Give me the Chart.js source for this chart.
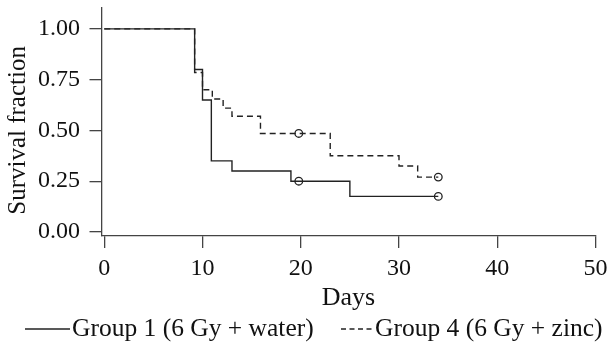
<!DOCTYPE html>
<html>
<head>
<meta charset="utf-8">
<script src="https://cdn.jsdelivr.net/npm/chart.js@4"></script>
<style>
  html, body { margin: 0; padding: 0; background: #fff; }
  #wrap { width: 607px; height: 347px; }
</style>
</head>
<body>
<div id="wrap"><canvas id="c" width="607" height="347"></canvas></div>
<script>
// ---- data ----
const xTickValues = [0, 10, 20, 30, 40, 50];
const yTickValues = [0, 0.25, 0.5, 0.75, 1.0];

const group1Days = [0, 9.2, 10.0, 10.9, 13.0, 19.0, 25.0, 34.0];
const group1Surv = [1.00, 0.80, 0.65, 0.35, 0.30, 0.25, 0.175, 0.175];
const group1CensorDays = [19.8, 34.0];
const group1CensorSurv = [0.25, 0.175];

const group4Days = [0, 9.2, 10.0, 11.0, 12.1, 13.0, 15.9, 23.0, 30.0, 31.9, 34.0];
const group4Surv = [1.00, 0.785, 0.70, 0.655, 0.61, 0.57, 0.485, 0.375, 0.325, 0.27, 0.27];
const group4CensorDays = [19.8, 34.0];
const group4CensorSurv = [0.485, 0.27];

const seriesLabels = ['Group 1 (6 Gy + water)', 'Group 4 (6 Gy + zinc)'];
const xTitle = 'Days';
const yTitle = 'Survival fraction';

// ---- build chart ----
const FONT = "'Liberation Serif', 'Times New Roman', serif";
const AX = '#444';
const LINE = '#222';
const toPts = (xs, ys) => xs.map((x, i) => ({ x: x, y: ys[i] }));

const decorPlugin = {
  id: 'decor',
  afterDraw(chart) {
    const ys = chart.scales.y;
    const ctx = chart.ctx;
    // y axis title, centred on the 0..1 range
    ctx.save();
    ctx.translate(18, ys.getPixelForValue(0.5));
    ctx.rotate(-Math.PI / 2);
    ctx.font = "25px " + FONT;
    ctx.fillStyle = '#111';
    ctx.textAlign = 'center';
    ctx.textBaseline = 'middle';
    ctx.fillText(yTitle, 0, 0);
    ctx.restore();

    // legend
    const ly = 329;
    ctx.save();
    ctx.font = "25.5px " + FONT;
    ctx.fillStyle = '#111';
    ctx.textAlign = 'left';
    ctx.textBaseline = 'middle';
    ctx.strokeStyle = LINE;
    ctx.lineWidth = 1.4;
    ctx.beginPath(); ctx.moveTo(25, ly); ctx.lineTo(70, ly); ctx.stroke();
    ctx.fillText(seriesLabels[0], 72, ly);
    ctx.setLineDash([5, 3.5]);
    ctx.beginPath(); ctx.moveTo(341, ly); ctx.lineTo(374, ly); ctx.stroke();
    ctx.setLineDash([]);
    ctx.fillText(seriesLabels[1], 375, ly);
    ctx.restore();
  }
};

new Chart(document.getElementById('c'), {
  type: 'line',
  data: {
    datasets: [
      {
        label: seriesLabels[0],
        data: toPts(group1Days, group1Surv),
        stepped: 'before',
        borderColor: LINE,
        borderWidth: 1.4,
        pointRadius: 0,
        fill: false
      },
      {
        label: seriesLabels[1],
        data: toPts(group4Days, group4Surv),
        stepped: 'before',
        borderColor: LINE,
        borderWidth: 1.4,
        borderDash: [6, 4],
        pointRadius: 0,
        fill: false
      },
      {
        label: 'censor1',
        data: toPts(group1CensorDays, group1CensorSurv),
        showLine: false,
        pointStyle: 'circle',
        pointRadius: 3.8,
        pointBorderWidth: 1.3,
        pointBorderColor: LINE,
        pointBackgroundColor: '#fff'
      },
      {
        label: 'censor4',
        data: toPts(group4CensorDays, group4CensorSurv),
        showLine: false,
        pointStyle: 'circle',
        pointRadius: 3.8,
        pointBorderWidth: 1.3,
        pointBorderColor: LINE,
        pointBackgroundColor: '#fff'
      }
    ]
  },
  options: {
    responsive: false,
    animation: false,
    events: [],
    layout: { padding: { top: 8, right: 11.5, bottom: 33.4, left: 0 } },
    scales: {
      x: {
        type: 'linear',
        min: -0.28,
        max: 50,
        afterBuildTicks: (s) => { s.ticks = xTickValues.map(v => ({ value: v })); },
        afterFit: (s) => { s.height = 77.6; s.paddingLeft = 0; s.paddingRight = 0; },
        ticks: {
          color: '#111',
          font: { family: FONT, size: 24 },
          padding: 6,
          maxRotation: 0,
          callback: (v) => String(v)
        },
        grid: { drawOnChartArea: false, drawTicks: true, tickLength: 12, color: AX, lineWidth: 1.3 },
        border: { display: true, color: AX, width: 1.3 },
        title: { display: true, text: xTitle, color: '#111', font: { family: FONT, size: 26 }, padding: { top: 0, bottom: 0 } }
      },
      y: {
        type: 'linear',
        min: -0.02,
        max: 1.103,
        afterBuildTicks: (s) => { s.ticks = yTickValues.map(v => ({ value: v })); },
        afterFit: (s) => { s.width = 101.5; s.paddingTop = 0; s.paddingBottom = 0; },
        ticks: {
          color: '#111',
          font: { family: FONT, size: 24 },
          padding: 9.5,
          callback: (v) => Number(v).toFixed(2)
        },
        grid: { drawOnChartArea: false, drawTicks: true, tickLength: 12, color: AX, lineWidth: 1.3 },
        border: { display: true, color: AX, width: 1.3 }
      }
    },
    plugins: {
      tooltip: { enabled: false },
      legend: { display: false }
    }
  },
  plugins: [decorPlugin]
});
</script>
</body>
</html>
